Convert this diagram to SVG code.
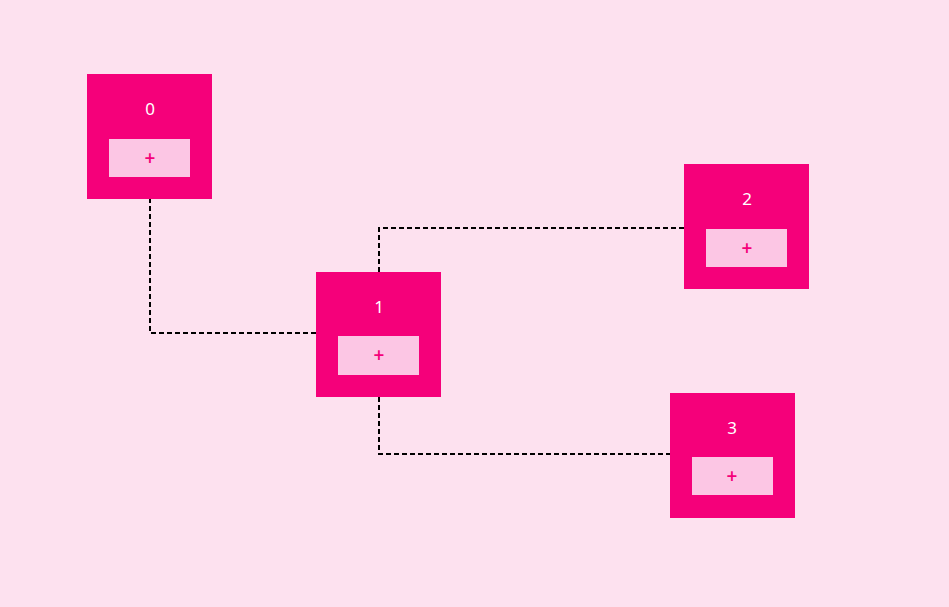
<svg xmlns="http://www.w3.org/2000/svg" width="949" height="607" viewBox="0 0 949 607">
<style>
.box{fill:#f5007a}
.btn{fill:#fcc6e4}
.lbl{font-family:"Noto Sans","Open Sans",sans-serif;font-size:17px;fill:#ffffff;text-anchor:middle}
.plus{font-family:"Noto Sans","Open Sans",sans-serif;font-size:19px;font-weight:600;fill:#f5007a;text-anchor:middle}
.edge{fill:none;stroke:#000000;stroke-width:2;stroke-dasharray:5,3}
</style>
<rect width="949" height="607" fill="#fde1ef"/>
<g id="connectors">
<path class="edge" d="M150,198 V333 H316"/>
<path class="edge" d="M379,272 V228 H684"/>
<path class="edge" d="M379,397 V454 H670"/>
</g>
<g id="node0">
<rect class="box" x="87" y="74" width="125" height="125"/>
<text class="lbl" x="150" y="115">0</text>
<rect class="btn" x="109" y="139" width="81" height="38"/>
<text class="plus" x="150" y="165">+</text>
</g>
<g id="node1">
<rect class="box" x="316" y="272" width="125" height="125"/>
<text class="lbl" x="379" y="313">1</text>
<rect class="btn" x="338" y="336" width="81" height="39"/>
<text class="plus" x="379" y="362">+</text>
</g>
<g id="node2">
<rect class="box" x="684" y="164" width="125" height="125"/>
<text class="lbl" x="747" y="205">2</text>
<rect class="btn" x="706" y="229" width="81" height="38"/>
<text class="plus" x="747" y="255">+</text>
</g>
<g id="node3">
<rect class="box" x="670" y="393" width="125" height="125"/>
<text class="lbl" x="732" y="434">3</text>
<rect class="btn" x="692" y="457" width="81" height="38"/>
<text class="plus" x="732" y="483">+</text>
</g>
</svg>
